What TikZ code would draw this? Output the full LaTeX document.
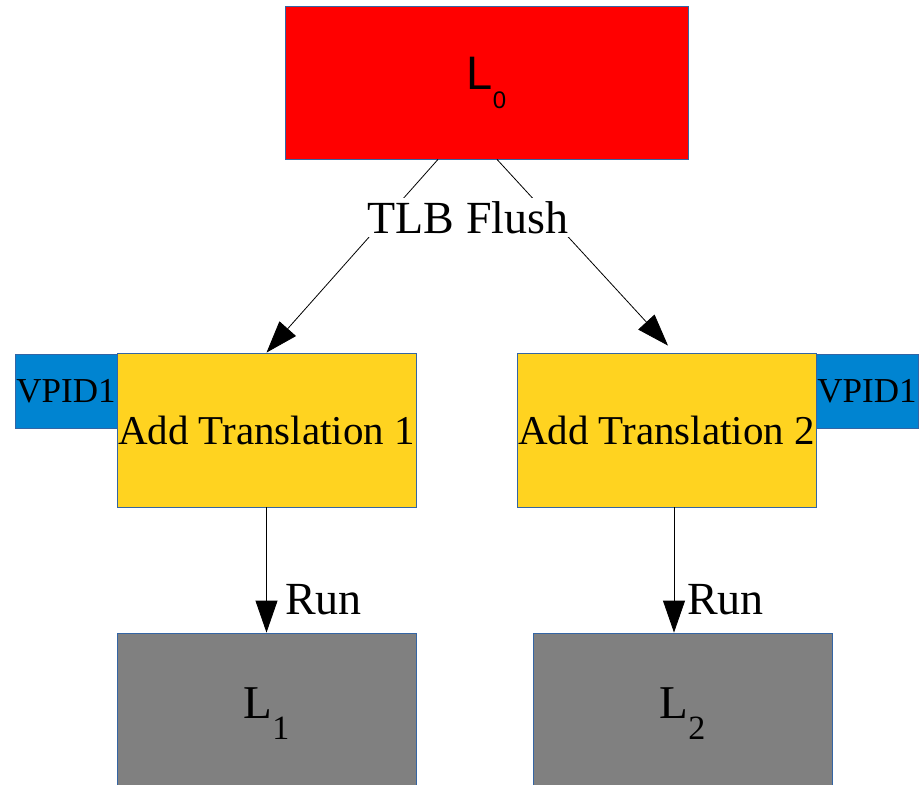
\documentclass[tikz,border=0pt]{standalone}
\usepackage{fontspec}
\setmainfont{Liberation Serif}
\setsansfont{Liberation Sans}
\usetikzlibrary{arrows.meta}

\definecolor{boxline}{HTML}{3465A4}
\definecolor{levelred}{HTML}{FF0000}
\definecolor{trgold}{HTML}{FFD320}
\definecolor{vpidblue}{HTML}{0084D1}
\definecolor{levelgray}{HTML}{808080}

\tikzset{
  box/.style={draw=boxline,line width=0.8pt,inner sep=0pt,align=center},
  levelbox/.style={box,minimum width=299pt,minimum height=162pt,fill=levelgray},
  trbox/.style={box,minimum width=299pt,minimum height=154pt,fill=trgold,font=\fontsize{41}{44}\selectfont},
  vpidbox/.style={box,minimum width=102pt,minimum height=74pt,fill=vpidblue,font=\fontsize{35}{38}\selectfont},
  flow/.style={line width=0.8pt,-{Triangle[length=32pt,width=22pt]}},
  flowlabel/.style={font=\fontsize{46}{50}\selectfont}
}

\begin{document}
\begin{tikzpicture}[x=1pt,y=-1pt]
	\useasboundingbox (0,0) rectangle (923,784);

	% top box
	\filldraw (486.5,82.5) node[box,fill=levelred,minimum width=403pt,minimum height=153pt] (l0)
		{\sffamily\fontsize{47}{50}\selectfont L\raisebox{-19pt}{\fontsize{24}{26}\selectfont 0}};

	% tagged translation boxes
	\filldraw (66,391) node[vpidbox] (vpid1) {VPID1};
	\filldraw (867,391) node[vpidbox] (vpid2) {VPID1};
	\filldraw (266.5,430) node[trbox] (addtr1) {Add Translation 1};
	\filldraw (666.5,430) node[trbox] (addtr2) {Add Translation 2};

	% guest boxes
	\filldraw (266.5,714) node[levelbox] (l1)
		{\fontsize{47}{50}\selectfont L\raisebox{-21pt}{\fontsize{34}{36}\selectfont 1}};
	\filldraw (682.5,714) node[levelbox] (l2)
		{\fontsize{47}{50}\selectfont L\raisebox{-21pt}{\fontsize{34}{36}\selectfont 2}};

	% arrows
	\coordinate (runx) at (674,0);
	\draw [flow] ([xshift=-48.5pt]l0.south) -- (addtr1.north);
	\draw [flow] ([xshift=10.5pt]l0.south) -- ([shift={(1.5,-7)}]addtr2.north);
	\draw [flow] (addtr1.south) -- (l1.north);
	\draw [flow] (addtr2.south -| runx) -- (l2.north -| runx);

	% labels
	\node [flowlabel,fill=white,inner xsep=3pt,inner ysep=3pt] (flush) at (468,217.5) {TLB Flush};
	\node [flowlabel,anchor=west,inner sep=0pt] (run1) at (285,600) {Run};
	\node [flowlabel,anchor=west,inner sep=0pt] (run2) at (687,600) {Run};
\end{tikzpicture}
\end{document}
